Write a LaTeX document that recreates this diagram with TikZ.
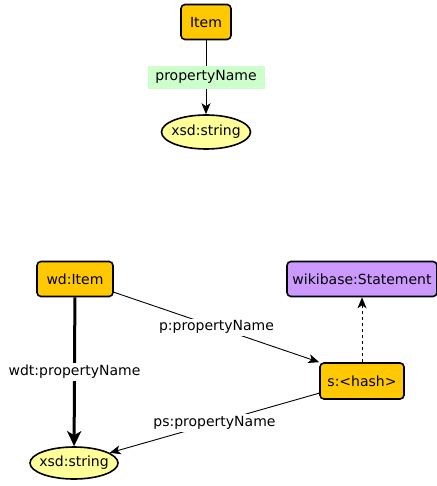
\documentclass[tikz,border=0pt]{standalone}
\usepackage{fontspec}
\setmainfont{DejaVu Sans}
\usetikzlibrary{arrows.meta,shapes.geometric}
\definecolor{boxgold}{HTML}{FFC800}
\definecolor{stmtpurple}{HTML}{CC99FF}
\definecolor{litfill}{HTML}{FFFF99}
\definecolor{lblgreen}{HTML}{CCFFCC}
\begin{document}
\begin{tikzpicture}[x=1pt,y=-1pt,
  font=\fontsize{14}{16}\selectfont,
  itembox/.style={draw, line width=1.6pt, rounded corners=4pt, fill=boxgold, minimum height=35pt, inner sep=0pt},
  stmtbox/.style={draw, line width=1.6pt, rounded corners=4pt, fill=stmtpurple, minimum height=35pt, inner sep=0pt},
  litnode/.style={draw, line width=1.6pt, ellipse, fill=litfill, inner sep=0pt},
  edgelbl/.style={fill=white, inner sep=2pt},
  arr/.style={-{Stealth[length=11pt,width=9pt,inset=3pt]}, line width=0.9pt}
]
\useasboundingbox (0,0) rectangle (436,486);
% top diagram
\node[itembox, minimum width=50pt] (item) at (206,22) {Item};
\node[litnode, minimum width=89pt, minimum height=34pt] (str1) at (206,132) {\makebox[0pt]{xsd:string}};
\draw[arr] (item) -- (str1) node[midway, fill=lblgreen, minimum width=117pt, minimum height=23pt, inner sep=0pt] (pn) {propertyName};
% bottom diagram
\node[itembox, minimum width=76pt] (wd) at (75,279) {wd:Item};
\node[stmtbox, minimum width=150pt] (stmt) at (362,279) {wikibase:Statement};
\node[itembox, minimum width=84pt, minimum height=36pt] (hash) at (362,381) {s:<hash>};
\node[litnode, minimum width=88pt, minimum height=32pt] (str2) at (74,463) {\makebox[0pt]{xsd:string}};
\draw[-{Stealth[length=15pt,width=14pt,inset=4pt]}, line width=3pt] (wd) -- (str2) node[pos=0.5, edgelbl] (wdt) {wdt:propertyName};
\draw[arr] (wd) -- (hash.north west) node[pos=0.5, edgelbl] (p) {p:propertyName};
\draw[arr] (hash) -- (str2) node[pos=0.5, edgelbl] (ps) {ps:propertyName};
\draw[arr, dashed] (hash) -- (stmt);
\end{tikzpicture}
\end{document}
